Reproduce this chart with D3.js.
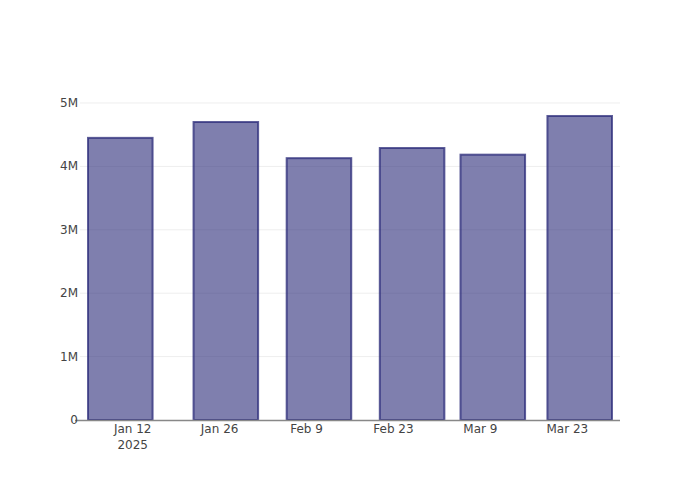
<!DOCTYPE html>
<html><head><meta charset="utf-8">
<script src="https://cdn.jsdelivr.net/npm/d3@7"></script>
<style>body{margin:0;background:#fff}svg{font-family:"DejaVu Sans",verdana,arial,sans-serif}</style>
</head><body><svg id="c" width="700" height="500"></svg>
<script>
const dates = ["2025-01-10","2025-01-27","2025-02-11","2025-02-26","2025-03-11","2025-03-25"];
const values = [4450000, 4700000, 4130000, 4290000, 4185000, 4795000];
const xTickDates = ["2025-01-12","2025-01-26","2025-02-09","2025-02-23","2025-03-09","2025-03-23"];
const yTicks = [0, 1000000, 2000000, 3000000, 4000000, 5000000];
const yTickLabels = ["0","1M","2M","3M","4M","5M"];

const parse = d3.utcParse("%Y-%m-%d");
const DAY = 864e5;
const ds = dates.map(parse);
const L = 80, R = 620, T = 100, B = 420;
const minGap = d3.min(d3.pairs(ds), p => p[1] - p[0]);
const bw = minGap * 0.8;
const pad = 1.29 * DAY;
const x = d3.scaleUtc()
  .domain([new Date(+ds[0] - bw/2 - pad), new Date(+ds[ds.length-1] + bw/2 + pad)])
  .range([L, R]);
const y = d3.scaleLinear().domain([0, d3.max(values) * 1.0526]).range([B, T]);

const svg = d3.select("#c");
svg.append("g").selectAll("line").data(yTicks.slice(1)).join("line")
  .attr("x1", L).attr("x2", R).attr("y1", d => y(d)).attr("y2", d => y(d))
  .attr("stroke", "#eee").attr("stroke-width", 1);

const color = "rgb(42,42,120)";
svg.append("g").selectAll("rect").data(ds).join("rect")
  .attr("x", d => x(new Date(+d - bw/2)))
  .attr("width", d => x(new Date(+d + bw/2)) - x(new Date(+d - bw/2)))
  .attr("y", (d,i) => y(values[i]))
  .attr("height", (d,i) => y(0) - y(values[i]))
  .attr("fill", color).attr("fill-opacity", 0.6)
  .attr("stroke", color).attr("stroke-opacity", 0.75).attr("stroke-width", 2);

svg.append("line").attr("x1", L - 5).attr("x2", R).attr("y1", B + 0.5).attr("y2", B + 0.5)
  .attr("stroke", "#888").attr("stroke-width", 1.5);

svg.append("g").selectAll("text").data(yTicks).join("text")
  .attr("x", 78).attr("y", d => y(d) + 4)
  .attr("text-anchor", "end").attr("font-size", 12).attr("fill", "#444")
  .text((d,i) => yTickLabels[i]);

const fmt = d3.utcFormat("%b %-d");
svg.append("g").selectAll("text").data(xTickDates.map(parse)).join("text")
  .attr("x", d => x(d)).attr("y", 433)
  .attr("text-anchor", "middle").attr("font-size", 12).attr("fill", "#444")
  .text(d => fmt(d));
svg.append("text").attr("x", x(parse(xTickDates[0]))).attr("y", 449)
  .attr("text-anchor", "middle").attr("font-size", 12).attr("fill", "#444")
  .text(d3.utcFormat("%Y")(parse(xTickDates[0])));
</script></body></html>
